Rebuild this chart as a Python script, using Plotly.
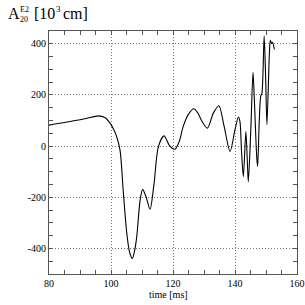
import plotly.graph_objects as go

# time [ms]
t = [80, 84, 88, 92, 95.9, 98, 99.7, 101, 101.8, 102.9, 104, 105.1, 106, 106.9,
     107.6, 108.3, 109.4, 110.2, 111.3, 112.6, 113.9, 115.3, 117.1, 119, 120.6,
     122, 123.3, 125, 126.7, 128, 129.2, 131.1, 133, 134.8, 136.5, 138.4, 140.0,
     141.1, 141.6, 142.1, 142.7, 143.5, 144.0, 144.3, 145.1, 145.8, 146.2, 147.0,
     147.3, 147.8, 148.3, 148.7, 149.4, 149.9, 150.3, 151.1, 151.4, 151.8, 152.1,
     152.7]
# A20 E2 [10^3 cm]
a20 = [82, 90, 99, 108, 118, 112, 90, 62, 38, -15, -184, -341, -415, -439,
       -410, -355, -211, -169, -198, -247, -145, -1, 40, 0, -12,
       18, 77, 125, 146, 130, 100, 70, 129, 158, 77, -21, 64,
       114, 96, -20, -119, 57, -67, -139, 64, 289, 195, -41,
       -80, 90, 195, 208, 430, 260, 84, 365, 414, 401, 406,
       378]

x_tickvals = [80, 100, 120, 140, 160]
x_ticktext = ["80", "100", "120", "140", "160"]
y_tickvals = [-400, -200, 0, 200, 400]
y_ticktext = ["-400", "-200", "0", "200", "400"]

FONT = "Liberation Serif, Times New Roman, serif"

fig = go.Figure()
fig.add_trace(go.Scatter(x=t, y=a20, mode="lines",
                         line=dict(color="black", width=1.1, shape="spline", smoothing=0.8),
                         showlegend=False, hoverinfo="skip"))

L, R, T, B = 49, 8, 31, 31
W = H = 305
pw = W - L - R
ph = H - T - B


def px(x):
    return (x - L) / pw


def py(y):
    return 1 - (y - T) / ph


axis_common = dict(showline=True, linecolor="#555", linewidth=1, mirror="allticks",
                   ticks="inside", ticklen=4, tickcolor="#555", automargin=False,
                   showgrid=True, gridcolor="#777", griddash="1px,2px", gridwidth=1,
                   zeroline=False, tickfont=dict(family=FONT, size=10, color="black"))

fig.update_xaxes(range=[80, 160], tickvals=x_tickvals, ticktext=x_ticktext,
                 minor=dict(dtick=5, tick0=80, ticks="inside", ticklen=4, tickcolor="#555", showgrid=False),
                 **axis_common)
fig.update_yaxes(range=[-500, 450], tickvals=y_tickvals, ticktext=y_ticktext,
                 minor=dict(dtick=50, tick0=0, ticks="inside", ticklen=4, tickcolor="#555", showgrid=False),
                 **axis_common)

ann = []
ann.append(dict(text="A", x=px(6), y=py(14), xanchor="left", yanchor="middle",
                font=dict(family=FONT, size=16, color="black")))
ann.append(dict(text="E2", x=px(17.5), y=py(9.5), xanchor="left", yanchor="middle",
                font=dict(family=FONT, size=8, color="black")))
ann.append(dict(text="20", x=px(17.5), y=py(19), xanchor="left", yanchor="middle",
                font=dict(family=FONT, size=8, color="black")))
ann.append(dict(text="[10", x=px(32), y=py(14), xanchor="left", yanchor="middle",
                font=dict(family=FONT, size=16, color="black")))
ann.append(dict(text="3", x=px(54), y=py(9.5), xanchor="left", yanchor="middle",
                font=dict(family=FONT, size=9, color="black")))
ann.append(dict(text="cm]", x=px(61), y=py(14), xanchor="left", yanchor="middle",
                font=dict(family=FONT, size=16, color="black")))
ann.append(dict(text="time [ms]", x=px(168), y=py(294), xanchor="center", yanchor="middle",
                font=dict(family=FONT, size=10, color="black")))
for a in ann:
    a.update(xref="paper", yref="paper", showarrow=False)

fig.update_layout(width=W, height=H, margin=dict(l=L, r=R, t=T, b=B, pad=0),
                  paper_bgcolor="white", plot_bgcolor="white",
                  annotations=ann, font=dict(family=FONT))

fig.write_html("out.html", config={"displayModeBar": False, "staticPlot": True},
               post_script="document.body.style.margin='0';document.body.style.overflow='hidden';")
